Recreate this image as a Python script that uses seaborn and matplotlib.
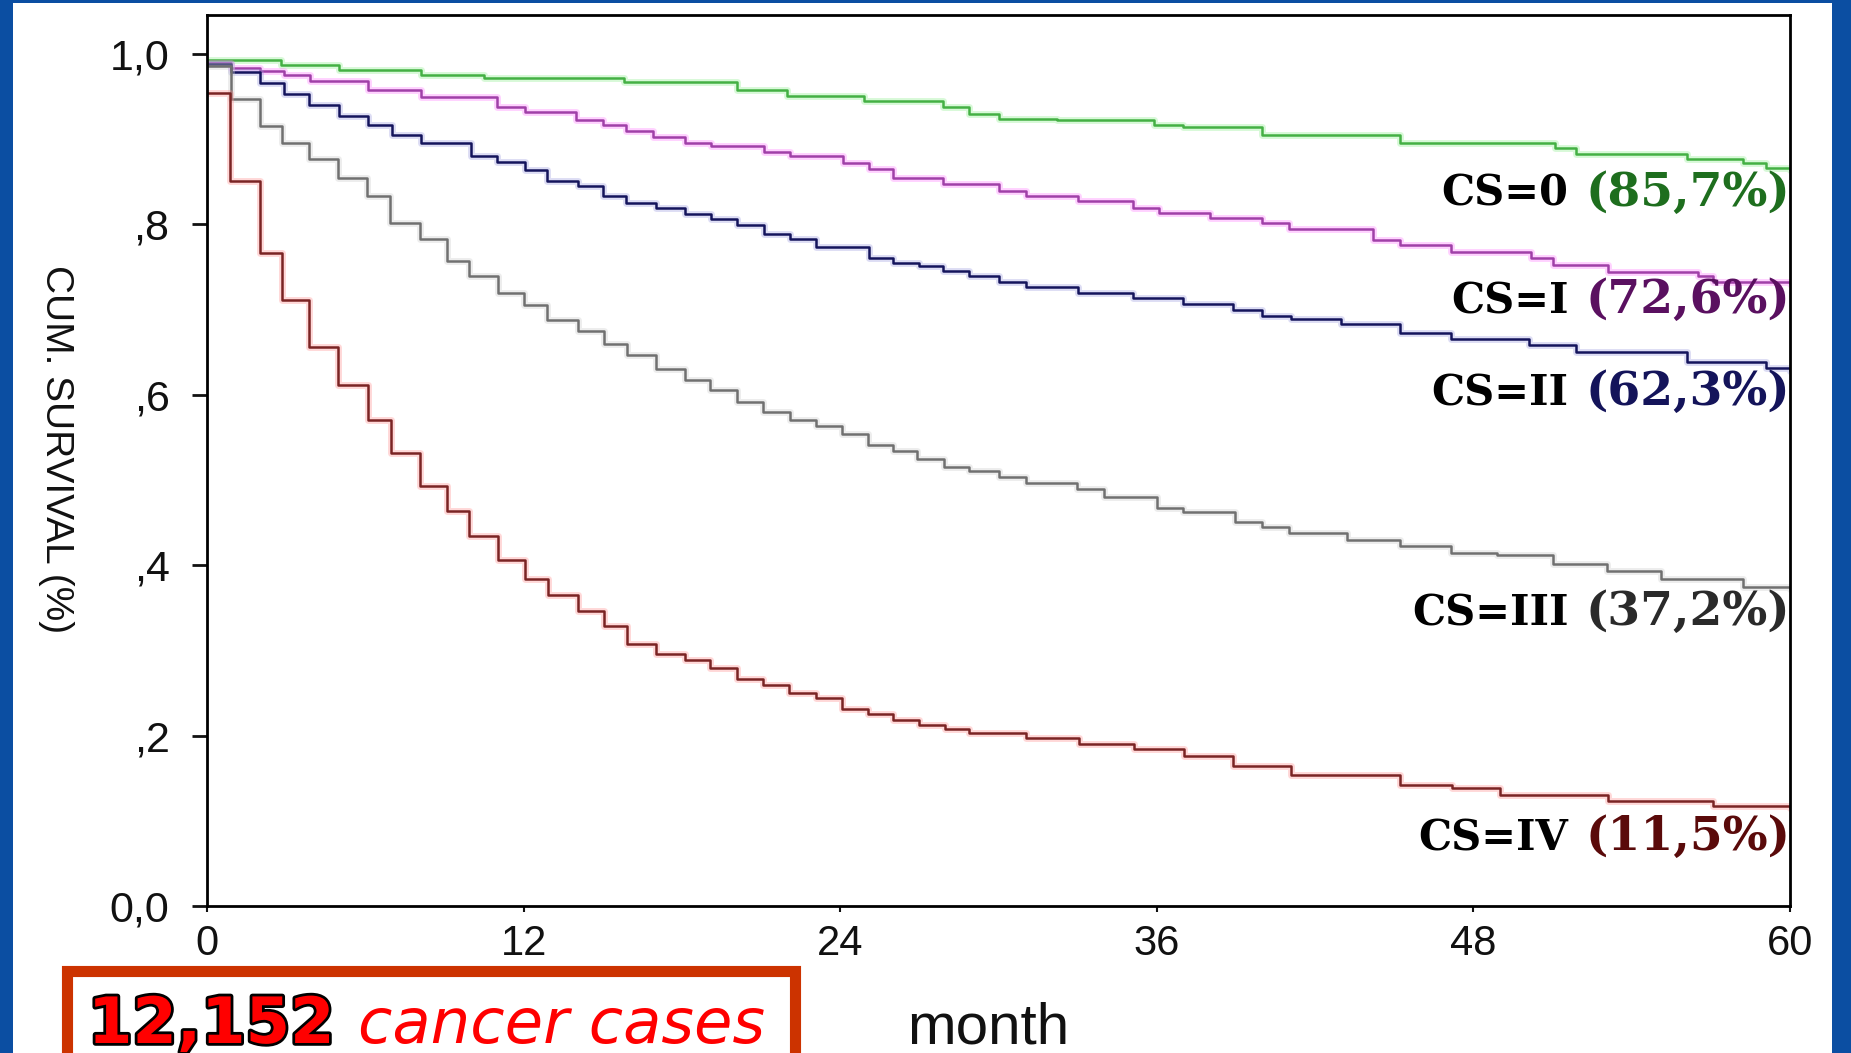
import numpy as np
import pandas as pd
import matplotlib
matplotlib.use('Agg')
import matplotlib.pyplot as plt
import matplotlib.patheffects as pe
from matplotlib.patches import Rectangle
import seaborn as sns

# Kaplan-Meier step data (month, cumulative survival)
stages = ['CS=0', 'CS=I', 'CS=II', 'CS=III', 'CS=IV']
pct_labels = ['(85,7%)', '(72,6%)', '(62,3%)', '(37,2%)', '(11,5%)']

cs0_t = [0, 2.8, 5.0, 8.1, 10.5, 15.8, 20.1, 22.0, 24.9, 27.9, 28.9, 30.0, 32.2,
         35.9, 37.0, 40.0, 45.2, 51.1, 51.9, 56.1, 58.2, 59.1, 60]
cs0_s = [0.993, 0.987, 0.981, 0.975, 0.972, 0.967, 0.958, 0.951, 0.945, 0.938, 0.930,
         0.924, 0.922, 0.917, 0.914, 0.905, 0.895, 0.890, 0.883, 0.877, 0.872, 0.866, 0.864]

cs1_t = [0, 0.9, 2.0, 2.9, 3.9, 6.1, 8.1, 11.0, 12.05, 14.0, 15.0, 15.9, 16.9, 18.1,
         19.1, 21.1, 22.1, 24.1, 25.1, 26.0, 27.9, 30.0, 31.05, 33.0, 35.1, 36.1, 38.0,
         40.0, 41.0, 44.2, 45.2, 47.15, 50.2, 51.0, 53.1, 56.5, 57.1, 60]
cs1_s = [0.990, 0.984, 0.980, 0.975, 0.968, 0.958, 0.950, 0.938, 0.932, 0.923, 0.917,
         0.910, 0.903, 0.896, 0.892, 0.885, 0.880, 0.872, 0.865, 0.855, 0.848, 0.839,
         0.833, 0.828, 0.8195, 0.813, 0.807, 0.802, 0.795, 0.782, 0.776, 0.768, 0.760,
         0.752, 0.744, 0.739, 0.732, 0.730]

cs2_t = [0, 0.9, 2.0, 2.9, 3.85, 5.0, 6.1, 7.0, 8.1, 10.0, 11.0, 12.05, 12.9, 14.05,
         15.0, 15.9, 17.0, 18.1, 19.1, 20.1, 21.1, 22.1, 23.1, 25.1, 26.0, 27.0, 27.9,
         28.9, 30.0, 31.05, 33.0, 35.1, 37.0, 38.9, 40.0, 41.1, 43.0, 45.2, 47.15, 50.1,
         51.9, 56.1, 59.1, 60]
cs2_s = [0.988, 0.979, 0.966, 0.953, 0.940, 0.927, 0.917, 0.905, 0.895, 0.880, 0.873,
         0.864, 0.851, 0.845, 0.833, 0.825, 0.819, 0.812, 0.806, 0.799, 0.789, 0.783,
         0.774, 0.761, 0.755, 0.751, 0.745, 0.739, 0.732, 0.726, 0.720, 0.714, 0.7065,
         0.699, 0.692, 0.689, 0.683, 0.672, 0.665, 0.658, 0.6505, 0.639, 0.631, 0.628]

cs3_t = [0, 0.9, 2.0, 2.83, 3.88, 4.98, 6.08, 6.93, 8.07, 9.08, 9.94, 11.04, 12.02,
         12.9, 14.06, 15.05, 15.92, 17.0, 18.11, 19.07, 20.1, 21.08, 22.1, 23.1, 24.08,
         25.07, 25.99, 26.9, 27.94, 28.9, 30.0, 31.05, 32.96, 34.0, 36.0, 37.0, 38.98,
         40.0, 41.0, 43.2, 45.2, 47.15, 48.9, 51.0, 53.07, 55.1, 58.2, 60]
cs3_s = [0.986, 0.947, 0.915, 0.895, 0.877, 0.855, 0.833, 0.802, 0.783, 0.757, 0.739,
         0.719, 0.706, 0.688, 0.675, 0.660, 0.647, 0.630, 0.617, 0.606, 0.592, 0.580,
         0.570, 0.563, 0.554, 0.541, 0.534, 0.525, 0.515, 0.510, 0.503, 0.497, 0.490,
         0.480, 0.467, 0.462, 0.451, 0.445, 0.438, 0.430, 0.4225, 0.414, 0.412, 0.402,
         0.393, 0.384, 0.375, 0.372]

cs4_t = [0, 0.87, 2.0, 2.83, 3.88, 4.98, 6.11, 6.96, 8.07, 9.08, 9.94, 11.04, 12.05,
         12.91, 14.06, 15.05, 15.92, 17.0, 18.11, 19.07, 20.1, 21.08, 22.07, 23.07,
         24.08, 25.07, 25.99, 26.98, 27.97, 28.9, 31.05, 33.04, 35.12, 37.03, 38.9,
         41.1, 45.2, 47.2, 49.0, 53.1, 57.1, 60]
cs4_s = [0.954, 0.851, 0.767, 0.711, 0.656, 0.611, 0.570, 0.532, 0.493, 0.464, 0.434,
         0.406, 0.384, 0.365, 0.346, 0.329, 0.307, 0.296, 0.289, 0.279, 0.267, 0.259,
         0.250, 0.244, 0.231, 0.225, 0.218, 0.212, 0.208, 0.203, 0.197, 0.190, 0.184,
         0.176, 0.164, 0.154, 0.142, 0.138, 0.130, 0.1235, 0.117, 0.115]

x_ticks = [0, 12, 24, 36, 48, 60]
y_ticks = [0, 0.2, 0.4, 0.6, 0.8, 1.0]
y_tick_labels = ['0,0', ',2', ',4', ',6', ',8', '1,0']

line_colors = ['#44b044', '#a040a8', '#14145c', '#707070', '#7a2424']
halo_colors = ['#90ee90', '#ff80ff', '#a0a0e0', '#cccccc', '#ff9090']
pct_colors = ['#1e6e1e', '#5a1060', '#14145a', '#2a2a2a', '#5a0a0a']
label_y = [0.822, 0.6956, 0.588, 0.3298, 0.0657]

times = [cs0_t, cs1_t, cs2_t, cs3_t, cs4_t]
survs = [cs0_s, cs1_s, cs2_s, cs3_s, cs4_s]
df = pd.concat([pd.DataFrame({'month': t, 'survival': s, 'stage': name})
                for t, s, name in zip(times, survs, stages)], ignore_index=True)

sns.set_style('ticks')
plt.rcParams['font.family'] = ['Liberation Sans', 'DejaVu Sans']

W, H = 1851, 1053
fig = plt.figure(figsize=(W / 100, H / 100), dpi=100, facecolor='#0b4ea2')
fig.add_artist(Rectangle((13 / W, 0), (1832 - 13) / W, 1 - 3 / H,
                         transform=fig.transFigure, facecolor='white',
                         edgecolor='none', zorder=0))

ax = fig.add_axes([207 / W, 1 - 906 / H, (1790 - 207) / W, (906 - 15) / H])
ax.set_facecolor('white')

sns.lineplot(data=df, x='month', y='survival', hue='stage', hue_order=stages,
             palette=dict(zip(stages, line_colors)), estimator=None, sort=False,
             drawstyle='steps-post', linewidth=1.8, legend=False, ax=ax)

for line, halo in zip(ax.lines, halo_colors):
    line.set_path_effects([pe.Stroke(linewidth=5, foreground=halo, alpha=0.35),
                           pe.Normal()])

ax.set_xlim(0, 60)
ax.set_ylim(0, 1.0458)
ax.set_xticks(x_ticks)
ax.set_xticklabels([str(v) for v in x_ticks])
ax.set_yticks(y_ticks)
ax.set_yticklabels(y_tick_labels)
ax.set_xlabel('')
ax.set_ylabel('')
ax.tick_params(axis='y', length=11, width=2, pad=16, labelsize=31, colors='#111111')
ax.tick_params(axis='x', length=4, width=1.5, pad=9, labelsize=30, colors='#111111')
for sp in ax.spines.values():
    sp.set_visible(True)
    sp.set_color('black')
    sp.set_linewidth(2)

# curve labels at the right
for name, pct, col, yb in zip(stages, pct_labels, pct_colors, label_y):
    ax.text(51.6, yb, name, ha='right', va='baseline', fontsize=30,
            fontweight='bold', family='DejaVu Serif', color='black')
    ax.text(60.0, yb, pct, ha='right', va='baseline', fontsize=34,
            fontweight='bold', family='DejaVu Serif', color=col)

fig.text(56 / W, 1 - 449 / H, 'CUM. SURVIVAL (%)', rotation=270, ha='center',
         va='center', fontsize=28, color='#111111')
fig.text(988 / W, 1 - 1043 / H, 'month', ha='center', va='baseline',
         fontsize=42, color='#111111')

# red framed box with the case count
fig.add_artist(Rectangle((66.5 / W, -0.05), (794.5 - 66.5) / W, (1 - 970.5 / H) + 0.05,
                         transform=fig.transFigure, facecolor='white',
                         edgecolor='#cc3300', linewidth=8, zorder=2))
fig.text(88 / W, 1 - 1043 / H, '12,152', color='red', fontsize=46, fontweight='bold',
         family='DejaVu Sans', va='baseline', zorder=3,
         path_effects=[pe.withStroke(linewidth=4, foreground='black')])
fig.text(358 / W, 1 - 1043 / H, 'cancer cases', color='red', fontsize=45,
         style='italic', family='DejaVu Sans', va='baseline', zorder=3)

fig.savefig('out.png', dpi=100, facecolor=fig.get_facecolor())
